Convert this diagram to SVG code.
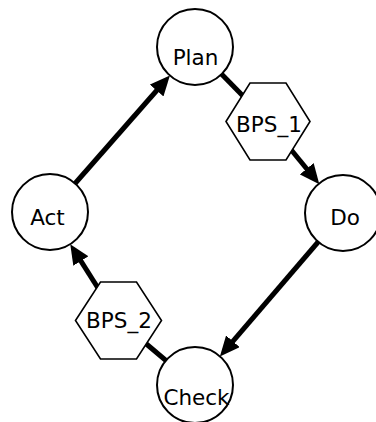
<svg xmlns="http://www.w3.org/2000/svg" width="376" height="422" viewBox="0 0 376 422">
<style>
.edge{stroke:#000;stroke-width:5;fill:none}
.circ{fill:#fff;stroke:#000;stroke-width:2}
.hex{fill:#fff;stroke:#000;stroke-width:1.6}
.lbl{font-family:"DejaVu Sans",Verdana,sans-serif;font-size:21.5px;fill:#000;text-anchor:middle}
</style>
<defs>
<marker id="ah" markerUnits="userSpaceOnUse" markerWidth="20" markerHeight="18" refX="10" refY="9" orient="auto">
<path d="M0,0 L20,9 L0,18 z" fill="#000"/>
</marker>
</defs>
<rect width="376" height="422" fill="#fff"/>
<g id="connectors">
<line class="edge" x1="50" y1="212" x2="163.3" y2="83" marker-end="url(#ah)"/>
<line class="edge" x1="195" y1="47" x2="268" y2="121.5"/>
<line class="edge" x1="268" y1="121.5" x2="313" y2="176.5" marker-end="url(#ah)"/>
<line class="edge" x1="343" y1="213" x2="226.4" y2="348.9" marker-end="url(#ah)"/>
<line class="edge" x1="195" y1="385" x2="118.5" y2="320.5"/>
<line class="edge" x1="118.5" y1="320.5" x2="75.6" y2="252.6" marker-end="url(#ah)"/>
</g>
<g id="plan"><circle class="circ" cx="195" cy="47" r="38"/><text class="lbl" x="195.5" y="65">Plan</text></g>
<g id="do"><circle class="circ" cx="343" cy="213" r="38"/><text class="lbl" x="345" y="225">Do</text></g>
<g id="check"><circle class="circ" cx="195" cy="385" r="38"/><text class="lbl" x="196.5" y="405">Check</text></g>
<g id="act"><circle class="circ" cx="50" cy="212" r="38"/><text class="lbl" x="47.5" y="225">Act</text></g>
<g id="bps1"><polygon class="hex" points="226,121.5 250,83 286,83 310,121.5 286,160 250,160"/><text class="lbl" x="269" y="132">BPS_1</text></g>
<g id="bps2"><polygon class="hex" points="75.5,320.5 100.5,282 136.5,282 161.5,320.5 136.5,359 100.5,359"/><text class="lbl" x="119" y="328">BPS_2</text></g>
</svg>
